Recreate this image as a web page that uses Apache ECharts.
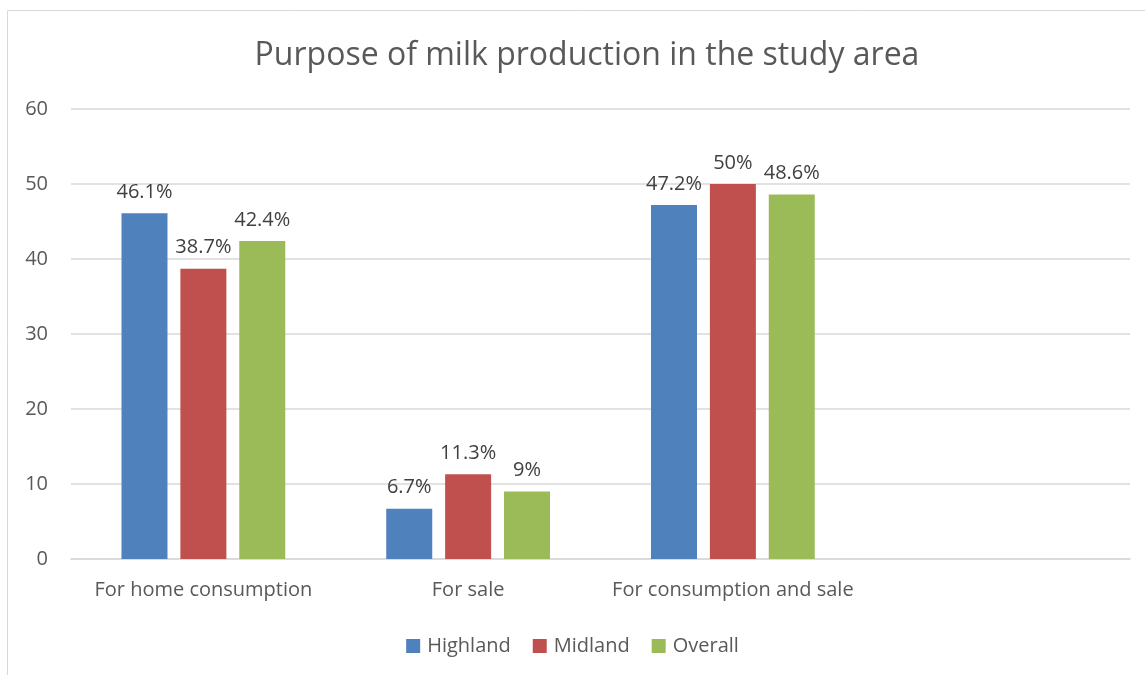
<!DOCTYPE html>
<html><head><meta charset="utf-8">
<script src="https://cdn.jsdelivr.net/npm/echarts@6/dist/echarts.min.js"></script>
<style>html,body{margin:0;padding:0;background:#fff}#c{width:1145px;height:675px}</style>
</head><body><div id="c"></div>
<script>
const categories = ["For home consumption", "For sale", "For consumption and sale", ""];
const highland = [46.1, 6.7, 47.2, null];
const midland = [38.7, 11.3, 50, null];
const overall = [42.4, 9, 48.6, null];
const seriesNames = ["Highland", "Midland", "Overall"];
const colors = ["#4F81BD", "#C0504D", "#9BBB59"];
const font = "'Open Sans', 'Noto Sans', sans-serif";
const chart = echarts.init(document.getElementById('c'));
const mk = (name, data, i) => ({
  name, type: 'bar', data, barWidth: 46, barGap: '28%',
  itemStyle: { color: colors[i] },
  label: { show: true, position: 'top', distance: 11, color: '#404040', fontSize: 20, fontFamily: font,
    formatter: p => p.value == null ? '' : p.value + '%' }
});
chart.setOption({
  animation: false,
  graphic: [{ type: 'rect', shape: { x: 7.5, y: 10.5, width: 1150, height: 680 }, style: { fill: 'none', stroke: '#d9d9d9', lineWidth: 1 } }],
  title: { text: 'Purpose of milk production in the study area', left: 582, textAlign: 'center', top: 35,
    textStyle: { color: '#595959', fontSize: 32, fontWeight: 'normal', fontFamily: font } },
  legend: { bottom: 14, left: 'center', itemWidth: 14, itemHeight: 14, itemGap: 22, icon: 'rect',
    textStyle: { color: '#595959', fontSize: 20, fontFamily: font, padding: [0, 0, 0, 2] }, data: seriesNames },
  grid: { left: 71, right: 15, top: 109, bottom: 116, containLabel: false },
  xAxis: { type: 'category', data: categories,
    axisLine: { lineStyle: { color: '#d9d9d9', width: 1.5 } }, axisTick: { show: false },
    axisLabel: { color: '#595959', fontSize: 20, fontFamily: font, margin: 21, interval: 0 } },
  yAxis: { type: 'value', min: 0, max: 60, interval: 10,
    axisLine: { show: false }, axisTick: { show: false },
    splitLine: { lineStyle: { color: '#d9d9d9', width: 1.5 } },
    axisLabel: { color: '#595959', fontSize: 20, fontFamily: font, margin: 23 } },
  series: [mk(seriesNames[0], highland, 0), mk(seriesNames[1], midland, 1), mk(seriesNames[2], overall, 2)]
});
</script></body></html>
